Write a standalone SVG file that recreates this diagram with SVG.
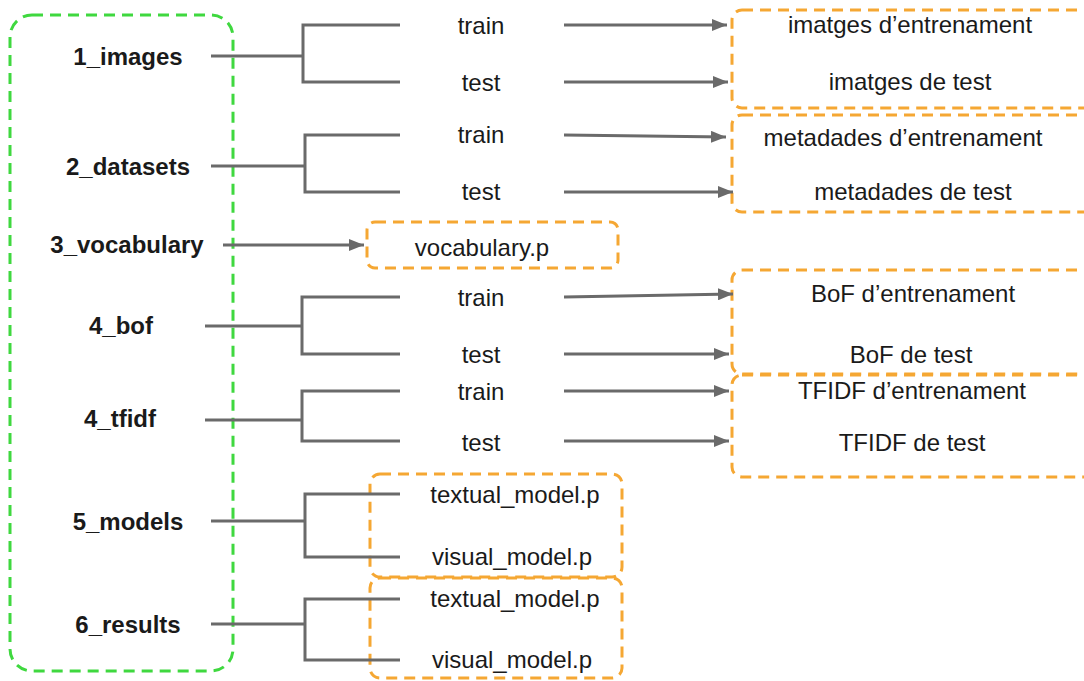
<svg xmlns="http://www.w3.org/2000/svg" width="1084" height="681" viewBox="0 0 1084 681">
  <style>
    .bg { fill: #ffffff; }
    .folder { font-family: "Liberation Sans", Arial, sans-serif; font-size: 24px; font-weight: bold; fill: #1a1a1a; text-anchor: middle; }
    .item { font-family: "Liberation Sans", Arial, sans-serif; font-size: 24px; fill: #1a1a1a; text-anchor: middle; }
    .link { fill: none; stroke: #6a6a6a; stroke-width: 3; }
    .arrow { fill: none; stroke: #6a6a6a; stroke-width: 3; marker-end: url(#head); }
    .groupbox { fill: none; stroke: #f5a733; stroke-width: 3; stroke-dasharray: 11 7; }
    .rootbox { fill: none; stroke: #3fd83f; stroke-width: 3; stroke-dasharray: 11 7; }
  </style>
  <defs>
    <marker id="head" markerUnits="userSpaceOnUse" markerWidth="16" markerHeight="12" refX="15" refY="6" orient="auto">
      <path d="M0,0 L15,6 L0,12 Z" fill="#6a6a6a"/>
    </marker>
  </defs>

  <rect class="bg" x="0" y="0" width="1084" height="681"/>

  <!-- root folder container -->
  <g id="root">
    <rect class="rootbox" x="10" y="15" width="223" height="656" rx="22" ry="22"/>
  </g>

  <!-- output group boxes -->
  <g id="box-images">
    <rect class="groupbox" x="732" y="10" width="400" height="98" rx="10" ry="10"/>
    <text class="item" x="910" y="33">imatges d’entrenament</text>
    <text class="item" x="910" y="90">imatges de test</text>
  </g>
  <g id="box-metadata">
    <rect class="groupbox" x="732" y="115" width="400" height="97" rx="10" ry="10"/>
    <text class="item" x="903" y="146">metadades d’entrenament</text>
    <text class="item" x="913" y="200">metadades de test</text>
  </g>
  <g id="box-vocabulary">
    <rect class="groupbox" x="367" y="222" width="251" height="46" rx="8" ry="8"/>
    <text class="item" x="482" y="256">vocabulary.p</text>
  </g>
  <g id="box-bof">
    <rect class="groupbox" x="732" y="270" width="400" height="104" rx="10" ry="10"/>
    <text class="item" x="913" y="302">BoF d’entrenament</text>
    <text class="item" x="911" y="363">BoF de test</text>
  </g>
  <g id="box-tfidf">
    <rect class="groupbox" x="732" y="375" width="400" height="102" rx="10" ry="10"/>
    <text class="item" x="912" y="399">TFIDF d’entrenament</text>
    <text class="item" x="912" y="451">TFIDF de test</text>
  </g>
  <g id="box-models">
    <rect class="groupbox" x="370" y="474" width="252" height="103" rx="10" ry="10"/>
    <text class="item" x="515" y="503">textual_model.p</text>
    <text class="item" x="512" y="565">visual_model.p</text>
  </g>
  <g id="box-results">
    <rect class="groupbox" x="370" y="578" width="252" height="100" rx="10" ry="10"/>
    <text class="item" x="515" y="607">textual_model.p</text>
    <text class="item" x="512" y="668">visual_model.p</text>
  </g>

  <!-- folder labels -->
  <g id="n-images"><text class="folder" x="128" y="65">1_images</text></g>
  <g id="n-datasets"><text class="folder" x="128" y="175">2_datasets</text></g>
  <g id="n-vocabulary"><text class="folder" x="127" y="253">3_vocabulary</text></g>
  <g id="n-bof"><text class="folder" x="121" y="334">4_bof</text></g>
  <g id="n-tfidf"><text class="folder" x="120" y="427">4_tfidf</text></g>
  <g id="n-models"><text class="folder" x="128" y="530">5_models</text></g>
  <g id="n-results"><text class="folder" x="128" y="633">6_results</text></g>

  <!-- split labels -->
  <g id="n-images-train"><text class="item" x="481" y="34">train</text></g>
  <g id="n-images-test"><text class="item" x="481" y="91">test</text></g>
  <g id="n-datasets-train"><text class="item" x="481" y="143">train</text></g>
  <g id="n-datasets-test"><text class="item" x="481" y="200">test</text></g>
  <g id="n-bof-train"><text class="item" x="481" y="306">train</text></g>
  <g id="n-bof-test"><text class="item" x="481" y="363">test</text></g>
  <g id="n-tfidf-train"><text class="item" x="481" y="400">train</text></g>
  <g id="n-tfidf-test"><text class="item" x="481" y="451">test</text></g>

  <!-- connectors -->
  <g id="connectors">
    <path class="link" d="M211,56 H303 M400,25 H303 V82 H400"/>
    <path class="link" d="M211,166 H305 M400,135 H305 V192 H400"/>
    <path class="link" d="M205,326 H302 M400,297 H302 V354 H400"/>
    <path class="link" d="M205,420 H302 M400,391 H302 V441 H400"/>
    <path class="link" d="M211,521 H305 M400,494 H305 V557 H400"/>
    <path class="link" d="M211,624 H305 M400,599 H305 V660 H400"/>

    <line class="arrow" x1="564" y1="25" x2="727" y2="25"/>
    <line class="arrow" x1="564" y1="82" x2="728" y2="82"/>
    <line class="arrow" x1="564" y1="135" x2="726" y2="137"/>
    <line class="arrow" x1="564" y1="192" x2="733" y2="192"/>
    <line class="arrow" x1="223" y1="245" x2="364" y2="245"/>
    <line class="arrow" x1="564" y1="297" x2="733" y2="294"/>
    <line class="arrow" x1="564" y1="354" x2="729" y2="354"/>
    <line class="arrow" x1="564" y1="391" x2="729" y2="391"/>
    <line class="arrow" x1="564" y1="441" x2="729" y2="441"/>
  </g>
</svg>
